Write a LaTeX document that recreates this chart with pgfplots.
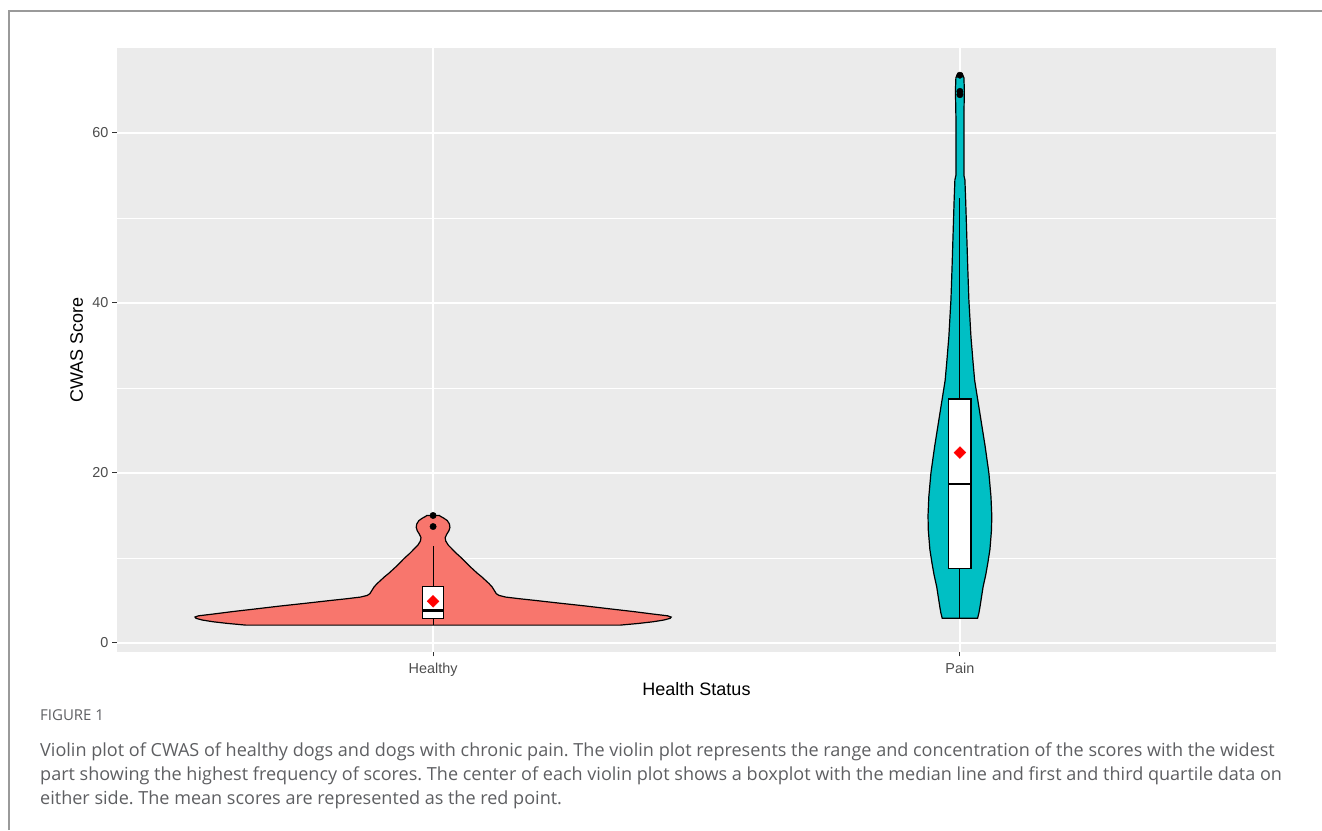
\documentclass[border=0pt]{standalone}
\usepackage{fontspec}
\setmainfont{Liberation Sans}
\newfontfamily\capfont{Open Sans}
\usepackage{pgfplots}
\pgfplotsset{compat=1.18}
\definecolor{panelbg}{HTML}{EBEBEB}
\definecolor{healthy}{HTML}{F8766D}
\definecolor{pain}{HTML}{00BFC4}
\definecolor{ticklab}{HTML}{4D4D4D}
\definecolor{tickmk}{HTML}{333333}
\definecolor{framec}{HTML}{9A9A9A}
\definecolor{capc}{HTML}{5E5F62}
\frenchspacing
\begin{document}
\begin{tikzpicture}
\path[use as bounding box] (0,0) rectangle (1322pt,830pt);
\draw[framec, line width=1.3pt] (9pt,0pt) -- (9pt,819pt) -- (1322pt,819pt);
\begin{axis}[
  at={(117pt,178pt)}, anchor=south west,
  width=1159pt, height=604pt, scale only axis,
  xmin=0.4, xmax=2.6, ymin=-1.06, ymax=70,
  axis background/.style={fill=panelbg},
  axis line style={draw=none},
  xtick={1,2}, xticklabels={Healthy,Pain},
  ytick={0,20,40,60}, yticklabels={0,20,40,60},
  minor ytick={10,30,50},
  xmajorgrids, ymajorgrids, yminorgrids,
  major grid style={white, line width=1.6pt},
  minor grid style={white, line width=0.8pt},
  tick align=outside, xtick pos=bottom, ytick pos=left,
  major tick length=4.5pt, minor tick length=0pt,
  tick style={tickmk, line width=1pt},
  ticklabel style={font=\fontsize{14.4}{16}\selectfont, text=ticklab},
  yticklabel style={anchor=east, inner sep=0pt, xshift=-4pt},
  xticklabel style={anchor=north, inner sep=0pt, yshift=-6pt},
  xlabel={Health Status}, ylabel={CWAS Score},
  label style={font=\fontsize{18}{20}\selectfont, text=black},
  xlabel style={at={(axis description cs:0.5,-0.0712)}, anchor=base},
  ylabel style={at={(axis description cs:-0.02934,0.5)}, anchor=base},
  clip=false,
]
% Healthy violin
\addplot[fill=healthy, draw=black, line width=1.2pt] coordinates {
(1.355,2.1) (1.390,2.3) (1.418,2.5) (1.438,2.7) (1.450,2.9) (1.452,3.05) (1.445,3.2) (1.418,3.4) (1.380,3.7) (1.338,4.0) (1.290,4.35) (1.238,4.7) (1.195,5.0) (1.165,5.2) (1.138,5.4) (1.125,5.6) (1.120,5.8) (1.116,6.2) (1.112,6.6) (1.106,7.0) (1.099,7.4) (1.092,7.8) (1.084,8.2) (1.077,8.6) (1.070,9.0) (1.062,9.5) (1.054,10.0) (1.045,10.5) (1.037,11.0) (1.029,11.5) (1.024,12.0) (1.023,12.4) (1.026,12.8) (1.030,13.2) (1.032,13.6) (1.031,14.0) (1.027,14.4) (1.020,14.7) (1.014,14.9) (1.012,15.0)
(0.988,15.0) (0.986,14.9) (0.980,14.7) (0.973,14.4) (0.969,14.0) (0.968,13.6) (0.970,13.2) (0.974,12.8) (0.977,12.4) (0.976,12.0) (0.971,11.5) (0.963,11.0) (0.955,10.5) (0.946,10.0) (0.938,9.5) (0.930,9.0) (0.923,8.6) (0.916,8.2) (0.908,7.8) (0.901,7.4) (0.894,7.0) (0.888,6.6) (0.884,6.2) (0.880,5.8) (0.875,5.6) (0.862,5.4) (0.835,5.2) (0.805,5.0) (0.762,4.7) (0.710,4.35) (0.662,4.0) (0.620,3.7) (0.582,3.4) (0.555,3.2) (0.548,3.05) (0.550,2.9) (0.562,2.7) (0.582,2.5) (0.610,2.3) (0.645,2.1)
} -- cycle;
% Pain violin
\addplot[fill=pain, draw=black, line width=1.2pt] coordinates {
(2.0335,2.9) (2.036,3.5) (2.038,4.2) (2.041,5.4) (2.044,6.6) (2.049,8.0) (2.053,9.4) (2.057,11.0) (2.060,13.3) (2.0605,15.0) (2.059,17.2) (2.055,20.0) (2.048,23.1) (2.038,27.0) (2.028,30.9) (2.025,33.0) (2.021,36.0) (2.017,40.4) (2.015,44.0) (2.013,48.0) (2.011,52.0) (2.0095,54.5) (2.0076,55.0) (2.0076,58.0) (2.0076,62.0) (2.0085,65.0) (2.0076,66.5) (2.004,67.0)
(1.996,67.0) (1.9924,66.5) (1.9915,65.0) (1.9924,62.0) (1.9924,58.0) (1.9924,55.0) (1.9905,54.5) (1.989,52.0) (1.987,48.0) (1.985,44.0) (1.983,40.4) (1.979,36.0) (1.975,33.0) (1.972,30.9) (1.962,27.0) (1.952,23.1) (1.945,20.0) (1.941,17.2) (1.9395,15.0) (1.940,13.3) (1.943,11.0) (1.947,9.4) (1.951,8.0) (1.956,6.6) (1.959,5.4) (1.962,4.2) (1.964,3.5) (1.9665,2.9)
} -- cycle;
% Healthy boxplot
\addplot[black, line width=1.1pt] coordinates {(1,2.1) (1,2.9)};
\addplot[black, line width=1.1pt] coordinates {(1,6.6) (1,11.4)};
\addplot[fill=white, draw=black, line width=1.1pt] coordinates {(0.98,2.9) (1.02,2.9) (1.02,6.6) (0.98,6.6)} -- cycle;
\addplot[black, line width=2.5pt] coordinates {(0.98,3.8) (1.02,3.8)};
\addplot[only marks, mark=*, mark size=3.2pt, black] coordinates {(1,15.0) (1,13.7)};
\addplot[only marks, mark=square*, mark size=4.2pt, mark options={rotate=45, fill=red, draw=red}] coordinates {(1,4.9)};
% Pain boxplot
\addplot[black, line width=1.1pt] coordinates {(2,2.9) (2,8.8)};
\addplot[black, line width=1.1pt] coordinates {(2,28.7) (2,52.4)};
\addplot[fill=white, draw=black, line width=1.1pt] coordinates {(1.979,8.8) (2.021,8.8) (2.021,28.7) (1.979,28.7)} -- cycle;
\addplot[black, line width=2.5pt] coordinates {(1.979,18.7) (2.021,18.7)};
\addplot[only marks, mark=*, mark size=3.2pt, black] coordinates {(2,66.8) (2,64.9) (2,64.5)};
\addplot[only marks, mark=square*, mark size=4.2pt, mark options={rotate=45, fill=red, draw=red}] coordinates {(2,22.4)};
\end{axis}
\node[anchor=base west, inner sep=0pt, text=capc, font=\capfont\fontsize{15}{18}\selectfont] at (40pt,110pt) {FIGURE 1};
\node[anchor=base west, inner sep=0pt, text=capc, font=\capfont\fontsize{18.05}{24}\selectfont] at (40pt,74pt) {Violin plot of CWAS of healthy dogs and dogs with chronic pain. The violin plot represents the range and concentration of the scores with the widest};
\node[anchor=base west, inner sep=0pt, text=capc, font=\capfont\fontsize{18.05}{24}\selectfont] at (40pt,50pt) {part showing the highest frequency of scores. The center of each violin plot shows a boxplot with the median line and first and third quartile data on};
\node[anchor=base west, inner sep=0pt, text=capc, font=\capfont\fontsize{18.05}{24}\selectfont] at (40pt,26pt) {either side. The mean scores are represented as the red point.};
\end{tikzpicture}
\end{document}
